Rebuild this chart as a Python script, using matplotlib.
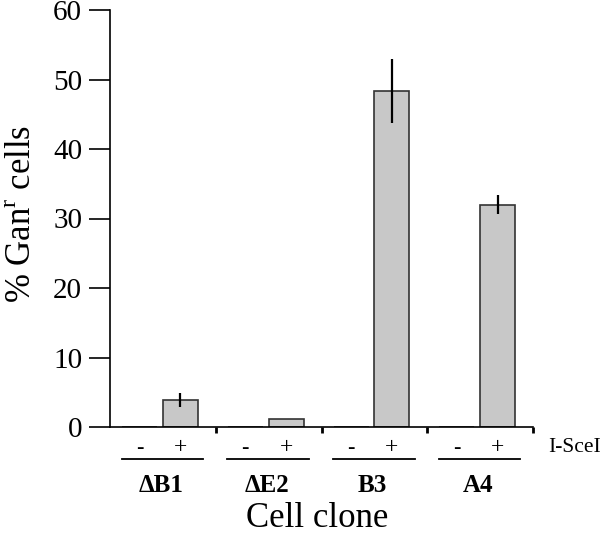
import matplotlib
matplotlib.use("Agg")
import matplotlib.pyplot as plt

plt.rcParams['font.family'] = ['Liberation Serif', 'DejaVu Serif']
plt.rcParams['mathtext.fontset'] = 'custom'
plt.rcParams['mathtext.rm'] = 'Liberation Serif'

clones = ['ΔB1', 'ΔE2', 'B3', 'A4']
minus_vals = [0.0, 0.0, 0.0, 0.0]
plus_vals = [3.9, 1.1, 48.3, 32.0]
plus_err = [1.0, 0.0, 4.6, 1.4]
treat_labels = ['-', '+']
yticks = [0, 10, 20, 30, 40, 50, 60]

fig = plt.figure(figsize=(6.01, 5.34), dpi=100)
ax = fig.add_axes([110/601, 1-427/534, 423/601, 417/534])

n = len(clones)
minus_x = [i + 0.28 for i in range(n)]
plus_x = [i + 0.665 for i in range(n)]
w = 0.33

ax.bar(minus_x, minus_vals, width=w, color='#c8c8c8', edgecolor='#333333', linewidth=1.2)
ax.bar(plus_x, plus_vals, width=w, color='#c8c8c8', edgecolor='#333333', linewidth=1.2,
       yerr=plus_err, error_kw=dict(ecolor='black', elinewidth=1.6, capsize=0))

ax.set_xlim(0, n)
ax.set_ylim(0, 60)
ax.set_yticks(yticks)
ax.set_xticks(range(1, n + 1))
ax.set_xticklabels([])
ax.spines['top'].set_visible(False)
ax.spines['right'].set_visible(False)
ax.spines['left'].set_linewidth(1.2)
ax.spines['bottom'].set_linewidth(1.2)
ax.tick_params(axis='y', direction='out', length=15, width=1.2, pad=5, labelsize=21)
ax.tick_params(axis='x', direction='out', length=4, width=2)

tr = ax.get_xaxis_transform()
for i, name in enumerate(clones):
    ax.text(minus_x[i], -0.05, treat_labels[0], transform=tr, ha='center', va='center', fontsize=16, fontweight='bold')
    ax.text(plus_x[i], -0.05, treat_labels[1], transform=tr, ha='center', va='center', fontsize=17)
    ax.plot([i + 0.11, i + 0.88], [-0.077, -0.077], transform=tr, color='black', lw=1.3, clip_on=False)
    ax.text(i + 0.48, -0.14, name, transform=tr, ha='center', va='center', fontsize=18, fontweight='bold')

ax.text(4.14, -0.05, 'I-SceI', transform=tr, ha='left', va='center', fontsize=15.5)
ax.text(0.5 * n * 0.98, -0.22, 'Cell clone', transform=tr, ha='center', va='center', fontsize=25)
ax.text(-0.208, 0.511, '% Gan$^{\\mathrm{r}}$ cells', transform=ax.transAxes, rotation=90,
        ha='center', va='center', fontsize=25)

fig.savefig('out.png', dpi=100)
